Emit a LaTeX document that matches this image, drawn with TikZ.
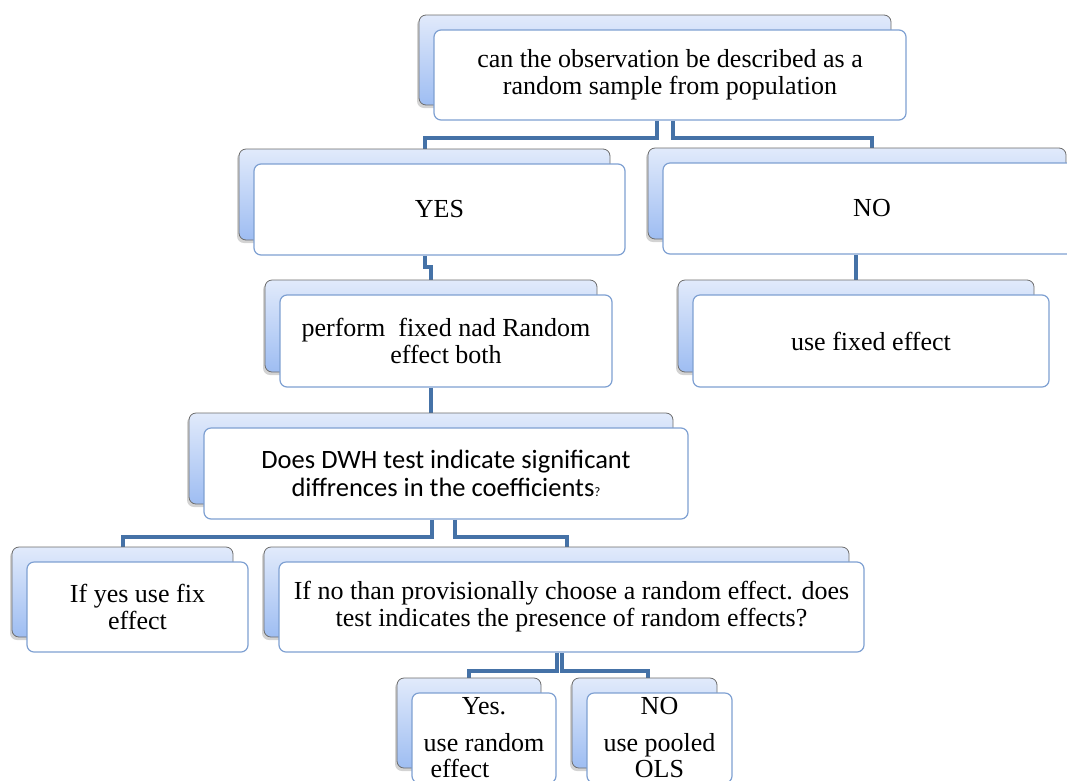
\documentclass[tikz,border=0pt]{standalone}
\usepackage{fontspec}
\setmainfont{Liberation Serif}
\newfontfamily\calibrifont{Carlito}
\usetikzlibrary{shadows,calc,backgrounds}
\definecolor{conncol}{RGB}{69,114,167}
\definecolor{edgecol}{RGB}{126,160,210}
\definecolor{backtop}{RGB}{225,234,251}
\definecolor{backbot}{RGB}{158,189,242}
\begin{document}
\begin{tikzpicture}[x=1pt,y=-1pt,
  front/.style={draw=edgecol, line width=1.2pt, fill=white, rounded corners=7pt,
    inner sep=0pt, align=center, font=\fontsize{26}{27}\selectfont},
  back/.style={draw=gray!85!black, line width=0.8pt, top color=backtop, bottom color=backbot,
    rounded corners=7pt, inner sep=0pt,
    drop shadow={shadow xshift=-2pt, shadow yshift=-3pt, opacity=0.35}},
  conn/.style={draw=conncol, line width=4pt}]
\useasboundingbox (0,0) rectangle (1067,780);

% back boxes
\node[back, minimum width=472pt, minimum height=90pt] (qB) at (655,60) {};
\node[back, minimum width=371pt, minimum height=91pt] (yesB) at (424.5,194.5) {};
\node[back, minimum width=418pt, minimum height=91pt] (noB) at (857,193.5) {};
\node[back, minimum width=356pt, minimum height=92pt] (fixedB) at (856,326) {};
\node[back, minimum width=332pt, minimum height=92pt] (performB) at (431,326) {};
\node[back, minimum width=484pt, minimum height=91pt] (dwhB) at (431,458.5) {};
\node[back, minimum width=221pt, minimum height=90pt] (ifyesB) at (122.5,592) {};
\node[back, minimum width=585pt, minimum height=90pt] (ifnoB) at (556.5,592) {};
\node[back, minimum width=144pt, minimum height=90pt] (yesrB) at (469,723) {};
\node[back, minimum width=145pt, minimum height=90pt] (nopB) at (644.5,723) {};

% front boxes
\node[front, minimum width=472pt, minimum height=90pt] (q) at (670,75)
  {can the observation be described as a\\random sample from population};
\node[front, minimum width=371pt, minimum height=91pt] (yes) at (439.5,209.5) {YES};
\node[front, minimum width=418pt, minimum height=91pt] (no) at (872,208.5) {NO};
\node[front, minimum width=356pt, minimum height=92pt] (fixed) at (871,341) {use fixed effect};
\node[front, minimum width=332pt, minimum height=92pt] (perform) at (446,341)
  {perform\ \ fixed nad Random\\effect both};
\node[front, minimum width=484pt, minimum height=91pt, font=\calibrifont\fontsize{26.5}{28}\selectfont] (dwh) at (446,473.5)
  {Does DWH test indicate significant\\diffrences in the coefficients{\fontsize{13}{13}\selectfont ?}};
\node[front, minimum width=221pt, minimum height=90pt] (ifyes) at (137.5,607)
  {If yes use fix\\effect};
\node[front, minimum width=585pt, minimum height=90pt] (ifno) at (571.5,607)
  {If no than provisionally choose a random effect. does\\test indicates the presence of random effects?};
\node[front, minimum width=144pt, minimum height=90pt, font=\fontsize{26}{26}\selectfont] (yesr) at (484,738)
  {Yes.\\[11pt]use random\\effect\hspace*{48pt}};
\node[front, minimum width=145pt, minimum height=90pt, font=\fontsize{26}{26}\selectfont] (nop) at (659.5,738)
  {NO\\[11pt]use pooled\\OLS};

% connectors
\begin{scope}[on background layer]
\draw[conn] ([xshift=-13pt]q.south) -- ++(0,17) -| (yesB.north);
\draw[conn] ([xshift=3pt]q.south) -- ++(0,17) -| ([xshift=15pt]noB.north);
\draw[conn] ([xshift=-15pt]yes.south) -- ++(0,11) -| (performB.north);
\draw[conn] (no.south -| fixedB.north) -- (fixedB.north);
\draw[conn] ([xshift=-15pt]perform.south) -- (dwhB.north);
\draw[conn] ([xshift=-14pt]dwh.south) -- ++(0,17) -| (ifyesB.north);
\draw[conn] ([xshift=9pt]dwh.south) -- ++(0,17) -| ([xshift=10pt]ifnoB.north);
\draw[conn] ([xshift=-14.5pt]ifno.south) -- ++(0,18) -| (yesrB.north);
\draw[conn] ([xshift=-9.5pt]ifno.south) -- ++(0,18) -| ([xshift=3pt]nopB.north);
\end{scope}
\end{tikzpicture}
\end{document}
